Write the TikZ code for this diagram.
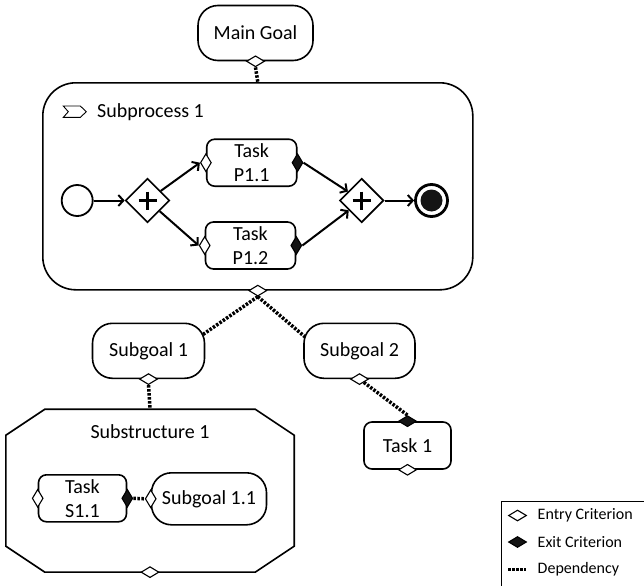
\documentclass[tikz,border=0pt]{standalone}
\usepackage{fontspec}
\setmainfont{Carlito}
\usepackage{xcolor}
\usetikzlibrary{arrows.meta,calc,positioning,shapes.geometric}
\definecolor{critfill}{RGB}{20,20,20}
\tikzset{
  txt/.style={font=\fontsize{20}{24}\selectfont, align=center},
  goal/.style={txt, draw, line width=1.6pt, fill=white, rounded corners=20pt, minimum height=55pt, inner sep=0pt},
  task/.style={txt, draw, line width=1.6pt, fill=white, rounded corners=8pt, minimum width=90pt, minimum height=47pt, inner sep=0pt},
  crit/.style={diamond, draw, line width=1.1pt, inner sep=0pt, fill=white},
  vcrit/.style={crit, minimum width=11pt, minimum height=18pt},
  hcrit/.style={crit, minimum width=18pt, minimum height=11pt},
  exitcrit/.style={fill=critfill},
  gateway/.style={diamond, draw, line width=1.6pt, fill=white, minimum size=44pt, inner sep=0pt},
  flow/.style={line width=2pt, -{Straight Barb[length=5pt,width=11pt,line width=2pt]}},
  dep/.style={line width=3.5pt, dash pattern=on 2.5pt off 1.5pt},
  legendtxt/.style={font=\fontsize{16}{19}\selectfont, anchor=west, inner sep=0pt}
}
\newcommand{\gatewayplus}[1]{%
  \draw[line width=3.5pt] ($(#1)+(-9,0)$) -- ($(#1)+(9,0)$) ($(#1)+(0,-9)$) -- ($(#1)+(0,9)$);%
}

\begin{document}
\begin{tikzpicture}[x=1pt,y=-1pt]
  \useasboundingbox (0,0) rectangle (644,586);

  \node[goal, minimum width=115pt] (mg) at (255.5,33) {Main Goal};
  \node[hcrit] (mgd) at (mg.south) {};

  \node[draw, line width=1.6pt, rounded corners=33pt, minimum width=430pt, minimum height=207pt, inner sep=0pt] (sp) at (257.8,186.3) {};
  \node[txt, anchor=west, inner sep=0pt] (splab) at (97,111.7) {Subprocess 1};
  \draw[line width=0.9pt] ($(splab.west)+(-33.7,-5.7)$) -- ++(17,0) -- ++(6,5.7) -- ++(-6,5.7) -- ++(-17,0) -- ++(5,-5.7) -- cycle;
  \node[hcrit] (spd) at (sp.south) {};
  \draw[dep] (mgd.south) -- (sp.north);

  \node[circle, draw, line width=1.8pt, minimum size=31pt, inner sep=0pt] (st) at (77.2,200.5) {};
  \node[gateway] (gw1) at (147.5,200.5) {};
  \node[gateway] (gw2) at (361.7,200.5) {};
  \gatewayplus{gw1}
  \gatewayplus{gw2}
  \node[circle, draw, line width=2.8pt, minimum size=32pt, inner sep=0pt] (en) at (431.5,200.5) {};
  \fill[critfill] (en.center) circle (11pt);

  \node[task] (t11) at (251.7,162.7) {Task\\P1.1};
  \node[task] (t12) at (250.5,245.5) {Task\\P1.2};
  \node[vcrit] (t11e) at (t11.west) {};
  \node[vcrit, exitcrit] (t11x) at (t11.east) {};
  \node[vcrit] (t12e) at (t12.west) {};
  \node[vcrit, exitcrit] (t12x) at (t12.east) {};

  \draw[flow] (st) -- (gw1);
  \draw[flow] (gw1) -- (t11e.west);
  \draw[flow] (gw1) -- (t12e.west);
  \draw[flow] (t11x.east) -- (gw2);
  \draw[flow] (t12x.east) -- (gw2);
  \draw[flow] (gw2) -- (en);

  \node[goal, minimum width=112pt] (sg1) at (148.5,350.8) {Subgoal 1};
  \node[goal, minimum width=111pt] (sg2) at (359.5,350.8) {Subgoal 2};
  \node[hcrit] (sg1d) at (sg1.south) {};
  \node[hcrit] (sg2d) at (sg2.south) {};
  \draw[dep] (spd.south) -- ($(sg1.center)+(53.7,-15.8)$);
  \draw[dep] (spd.south) -- ($(sg2.center)+(-54.7,-14.1)$);

  \node[minimum width=288pt, minimum height=162.5pt, inner sep=0pt] (ss) at (150,490.7) {};
  \draw[line width=1.6pt] ($(ss.north west)+(39,0)$) -- ($(ss.north east)+(-39,0)$) -- ($(ss.north east)+(0,26)$) -- ($(ss.south east)+(0,-26)$) -- ($(ss.south east)+(-39,0)$) -- ($(ss.south west)+(39,0)$) -- ($(ss.south west)+(0,-26)$) -- ($(ss.north west)+(0,26)$) -- cycle;
  \node[txt] (sslab) at (150,431.7) {Substructure 1};
  \node[hcrit] (ssd) at (ss.south) {};
  \draw[dep] (sg1d.south) -- (ss.north);

  \node[task, minimum width=88pt] (ts) at (82.5,498.3) {Task\\S1.1};
  \node[vcrit] (tse) at (ts.west) {};
  \node[vcrit, exitcrit] (tsx) at (ts.east) {};
  \node[goal, minimum width=115pt, minimum height=52pt] (sg11) at (209,498.8) {Subgoal 1.1};
  \node[vcrit] (sg11e) at (sg11.west) {};
  \draw[dep] (tsx.east) -- (sg11e.west);

  \node[task, minimum width=87pt] (t1) at (407.5,445.5) {Task 1};
  \node[hcrit, exitcrit] (t1x) at (t1.north) {};
  \node[hcrit] (t1e) at (t1.south) {};
  \draw[dep] (sg2d) -- (t1x.north);

  \draw[line width=1pt] (644,501) -| (501,586);
  \node[hcrit] (lgentry) at (517.5,515.5) {};
  \node[legendtxt] (lgentrytxt) at (537.5,515.5) {Entry Criterion};
  \node[hcrit, exitcrit] (lgexit) at (517.5,542) {};
  \node[legendtxt] (lgexittxt) at (537.5,542) {Exit Criterion};
  \draw[dep, line width=3pt] (508,569) -- (526,569);
  \node[legendtxt] (lgdeptxt) at (537.5,569) {Dependency};
\end{tikzpicture}
\end{document}
